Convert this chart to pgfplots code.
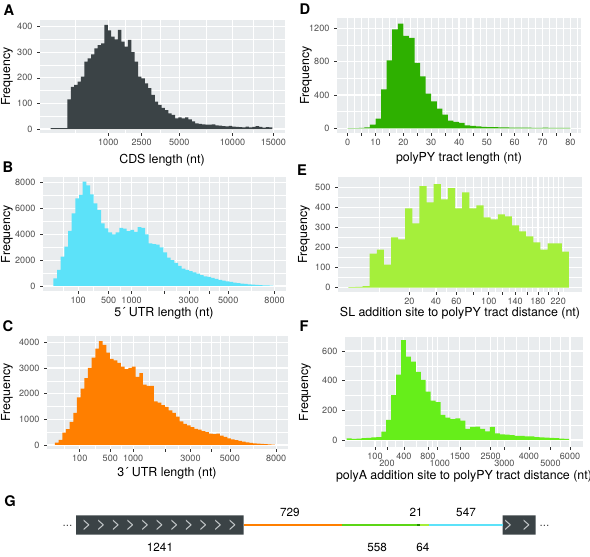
\documentclass[border=0pt]{standalone}
\usepackage{fontspec}
\setmainfont{TeX Gyre Heros}
\usepackage{pgfplots}
\pgfplotsset{compat=1.18}

\definecolor{panelbg}{HTML}{E9ECEE}
\definecolor{tickcol}{HTML}{333333}
\definecolor{ticklab}{HTML}{4D4D4D}
\definecolor{colA}{HTML}{3B4346}
\definecolor{colD}{HTML}{2EB000}
\definecolor{colB}{HTML}{5CE2F9}
\definecolor{colE}{HTML}{A5EF3B}
\definecolor{colC}{HTML}{FF7F00}
\definecolor{colF}{HTML}{66EE1A}
\definecolor{chev}{HTML}{C9CDCF}

\newcommand{\tfont}{\fontsize{6.8}{7}\selectfont}
\newcommand{\lfont}{\fontsize{9.3}{10}\selectfont}
\newcommand{\pfont}{\fontsize{11}{12}\selectfont\bfseries}
\newcommand{\low}[1]{\rule{0pt}{9.6pt}#1}

\pgfplotsset{
  hist/.style={
    scale only axis, anchor=south west,
    axis background/.style={fill=panelbg},
    axis x line*=bottom, axis y line*=left,
    axis line style={draw=none},
    tick align=outside,
    major tick length=2.2pt, minor tick length=0pt,
    tick style={draw=tickcol, line width=0.45pt},
    xmajorgrids, ymajorgrids, xminorgrids, yminorgrids,
    major grid style={draw=white, line width=0.85pt},
    minor grid style={draw=white, line width=0.4pt},
    tick label style={font=\tfont, text=ticklab},
    xticklabel style={yshift=0.9pt},
    /pgf/number format/assume math mode=true,
    /pgf/number format/1000 sep={},
    scaled y ticks=false,
    minor y tick num=1,
  },
  bars/.style={const plot, draw=none, fill=#1},
}

\begin{document}
\begin{tikzpicture}
\path[use as bounding box] (0pt,0pt) rectangle (442.5pt,417.75pt);

% ---------- A ----------
\begin{axis}[hist, at={(30pt,318pt)}, width=183.75pt, height=84.75pt,
  xmin=-3.18, xmax=69.73, ymin=-15.6, ymax=426,
  xtick={17.14,27.08,38.27,54.1,66.28}, xticklabels={1000,2500,5000,10000,15000},
  minor xtick={7.23,22.11,32.68,46.19,60.19},
  ytick={0,100,200,300,400}]
\addplot[bars=colA] coordinates {(0,0)(0,3)(1,3)(2,3)(3,3)(4,3)(5,116)(6,165)(7,172)(8,185)(9,205)(10,263)(11,276)(12,292)(13,315)(14,328)(15,335)(16,407)(17,385)(18,361)(19,350)(20,387)(21,341)(22,322)(23,348)(24,300)(25,263)(26,205)(27,198)(28,178)(29,160)(30,133)(31,107)(32,94)(33,83)(34,74)(35,61)(36,55)(37,42)(38,45)(39,42)(40,45)(41,38)(42,30)(43,22)(44,20)(45,18)(46,17)(47,17)(48,18)(49,14)(50,13)(51,11)(52,10)(53,12)(54,9)(55,8)(56,7)(57,6)(58,9)(59,6)(60,8)(61,11)(62,8)(63,5)(64,7)(65,6)(66,0)} \closedcycle;
\end{axis}

% ---------- D ----------
\begin{axis}[hist, at={(252.75pt,318pt)}, width=183pt, height=86.25pt,
  xmin=-3.84, xmax=83.8, ymin=-56, ymax=1324,
  xtick={0,5,...,80}, xticklabels={0,,10,,20,,30,,40,,50,,60,,70,,80},
  minor xtick={2.5,7.5,...,82.5},
  ytick={0,400,800,1200}]
\addplot[bars=colD] coordinates {(0,0)(0,3)(2,3)(4,5)(6,12)(8,44)(10,116)(12,468)(14,816)(16,1188)(18,1256)(20,1108)(22,1084)(24,784)(26,624)(28,416)(30,324)(32,236)(34,164)(36,92)(38,76)(40,64)(42,36)(44,28)(46,22)(48,18)(50,15)(52,14)(54,12)(56,10)(58,9)(60,8)(62,8)(64,7)(66,6)(68,6)(70,7)(72,5)(74,5)(76,4)(78,4)(80,0)} \closedcycle;
\end{axis}

% ---------- B ----------
\begin{axis}[hist, at={(32.25pt,199.5pt)}, width=182.25pt, height=85.5pt,
  xmin=-2.82, xmax=63.45, ymin=-387, ymax=8441,
  xtick={6.75,15.08,21.33,30.16,36.95,42.66,47.7,60.33}, xticklabels={100,500,1000,,3000,,5000,8000},
  minor xtick={2.6,10.9,18.2,25.75,33.55,39.8,45.18,54.0},
  ytick={0,2000,4000,6000,8000}]
\addplot[bars=colB] coordinates {(0,0)(0,600)(1,1250)(2,2270)(3,3045)(4,4260)(5,5630)(6,6790)(7,7050)(8,8080)(9,7800)(10,7100)(11,6400)(12,5880)(13,4850)(14,4460)(15,4150)(16,4000)(17,4150)(18,4500)(19,4450)(20,4250)(21,4350)(22,4200)(23,4550)(24,4500)(25,4000)(26,3300)(27,3250)(28,3200)(29,3000)(30,2600)(31,2200)(32,2000)(33,1800)(34,1550)(35,1350)(36,1250)(37,1150)(38,1050)(39,950)(40,850)(41,750)(42,700)(43,620)(44,550)(45,480)(46,420)(47,360)(48,310)(49,270)(50,230)(51,190)(52,160)(53,130)(54,110)(55,90)(56,70)(57,55)(58,45)(59,35)(60,0)} \closedcycle;
\end{axis}

% ---------- E ----------
\begin{axis}[hist, at={(253.5pt,198.75pt)}, width=183pt, height=86.25pt,
  xmin=-1.45, xmax=32.84, ymin=-21.4, ymax=551,
  xtick={8.57,12.32,15.19,17.61,19.74,21.68,23.44,25.1,26.65,28.12,29.5},
  xticklabels={20,40,60,,100,,140,,180,,220},
  minor xtick={4.3,10.45,13.75,16.4,18.68,20.71,22.56,24.27,25.88,27.39,28.81,30.2},
  ytick={0,100,200,300,400,500}]
\addplot[bars=colE] coordinates {(0,0)(0,3)(1,4)(2,8)(3,170)(4,190)(5,115)(6,250)(7,240)(8,395)(9,320)(10,505)(11,425)(12,515)(13,440)(14,495)(15,395)(16,475)(17,395)(18,410)(19,350)(20,340)(21,365)(22,355)(23,310)(24,280)(25,255)(26,225)(27,190)(28,220)(29,220)(30,180)(31,0)} \closedcycle;
\end{axis}

% ---------- C ----------
\begin{axis}[hist, at={(35.25pt,81pt)}, width=180.75pt, height=84.75pt,
  xmin=-2.18, xmax=63.55, ymin=-156, ymax=4245,
  xtick={6.75,15.08,21.33,30.16,36.95,42.66,47.7,60.33}, xticklabels={100,500,1000,,3000,,5000,8000},
  minor xtick={2.6,10.9,18.2,25.75,33.55,39.8,45.18,54.0},
  ytick={0,1000,2000,3000,4000}]
\addplot[bars=colC] coordinates {(0,0)(0,90)(1,200)(2,480)(3,620)(4,900)(5,1250)(6,1850)(7,2200)(8,2600)(9,3000)(10,3400)(11,3750)(12,4050)(13,3900)(14,3600)(15,3350)(16,3300)(17,3200)(18,3050)(19,2950)(20,3000)(21,3050)(22,2650)(23,2800)(24,2350)(25,2300)(26,2300)(27,1700)(28,1650)(29,1550)(30,1480)(31,1350)(32,1250)(33,1100)(34,920)(35,820)(36,760)(37,700)(38,630)(39,600)(40,540)(41,500)(42,440)(43,420)(44,440)(45,360)(46,320)(47,260)(48,220)(49,190)(50,160)(51,130)(52,105)(53,85)(54,65)(55,50)(56,40)(57,30)(58,22)(59,15)(60,0)} \closedcycle;
\end{axis}

% ---------- F ----------
\begin{axis}[hist, at={(258.75pt,82.5pt)}, width=178.5pt, height=82.5pt,
  xmin=-0.34, xmax=47.83, ymin=-47.2, ymax=694.4,
  xtick={5.73,8.16,11.58,16.44,18.38,22.91,29.15,31.92,36.88,41.25,45.2},
  xticklabels={100,\low{200},400,800,\low{\hspace{3.5pt}1000},1500,2500,\low{3000},4000,\low{5000},6000},
  minor xtick={2.87,6.95,9.87,14.01,17.41,20.65,26.03,30.54,34.4,39.07,43.23},
  ytick={0,200,400,600}]
\addplot[bars=colF] coordinates {(0,0)(0,11)(1,8)(2,10)(3,12)(4,15)(5,18)(6,20)(7,56)(8,135)(9,303)(10,440)(11,674)(12,562)(13,528)(14,460)(15,405)(16,326)(17,265)(18,255)(19,170)(20,150)(21,140)(22,145)(23,130)(24,75)(25,88)(26,90)(27,75)(28,58)(29,88)(30,45)(31,38)(32,36)(33,32)(34,28)(35,27)(36,25)(37,24)(38,20)(39,18)(40,16)(41,15)(42,13)(43,10)(44,8)(45,0)} \closedcycle;
\end{axis}

% ---------- G ----------
\begin{axis}[at={(0pt,0pt)}, anchor=south west, scale only axis, width=442.5pt, height=46.5pt,
  xmin=-563, xmax=3807.4, ymin=-1.6, ymax=1.5, hide axis, clip=false]
\addplot[fill=colA, draw=none] coordinates {(0,-0.4825)(1241,-0.4825)(1241,0.4825)(0,0.4825)(0,-0.4825)};
\addplot[fill=colA, draw=none] coordinates {(3160,-0.4825)(3405,-0.4825)(3405,0.4825)(3160,0.4825)(3160,-0.4825)};
\addplot[colC, line width=1.7pt] coordinates {(1241,0)(1970,0)};
\addplot[colF!90!black, line width=1.7pt] coordinates {(1970,0)(2528,0)};
\addplot[colD!80!black, line width=1.7pt] coordinates {(2528,0)(2549,0)};
\addplot[colE, line width=1.7pt] coordinates {(2549,0)(2613,0)};
\addplot[colB, line width=1.7pt] coordinates {(2613,0)(3160,0)};
\addplot[only marks, mark=text, text mark={>}, text mark as node=true,
  text mark style={font=\fontsize{12.5}{12.5}\selectfont, text=chev}]
  coordinates {(79,0)(187,0)(296,0)(404,0)(512,0)(620,0)(729,0)(837,0)(945,0)(1053,0)(1161,0)(3202,0)(3339,0)};
\node[font=\fontsize{8.8}{9}\selectfont, text=black!70, anchor=base] at (axis cs:-63,-0.05) {...};
\node[font=\fontsize{8.8}{9}\selectfont, text=black!70, anchor=base] at (axis cs:3470,-0.05) {...};
\node[font=\fontsize{8.8}{9}\selectfont] at (axis cs:1585,0.625) {729};
\node[font=\fontsize{8.8}{9}\selectfont] at (axis cs:2519,0.65) {21};
\node[font=\fontsize{8.8}{9}\selectfont] at (axis cs:2889,0.65) {547};
\node[font=\fontsize{8.8}{9}\selectfont] at (axis cs:622,-1.1) {1241};
\node[font=\fontsize{8.8}{9}\selectfont] at (axis cs:2230,-1.1) {558};
\node[font=\fontsize{8.8}{9}\selectfont] at (axis cs:2570,-1.1) {64};
\end{axis}

% ---------- labels ----------
\begin{scope}[x=0.75pt,y=-0.75pt,yshift=417.75pt]
\node[font=\pfont] at (9,10) {A};
\node[font=\pfont] at (305,9) {D};
\node[font=\pfont] at (8,167) {B};
\node[font=\pfont] at (302,170) {E};
\node[font=\pfont] at (8,326) {C};
\node[font=\pfont] at (304,326) {F};
\node[font=\pfont] at (10,501) {G};

\node[font=\lfont, rotate=90] at (7,76.5) {Frequency};
\node[font=\lfont, rotate=90] at (306,75.5) {Frequency};
\node[font=\lfont, rotate=90] at (7,234) {Frequency};
\node[font=\lfont, rotate=90] at (304,234.5) {Frequency};
\node[font=\lfont, rotate=90] at (7,392.5) {Frequency};
\node[font=\lfont, rotate=90] at (305,392) {Frequency};

\node[font=\lfont] at (162,160) {CDS length (nt)};
\node[font=\lfont] at (459,158) {polyPY tract length (nt)};
\node[font=\lfont] at (164,313) {5´ UTR length (nt)};
\node[font=\lfont] at (460,313) {SL addition site to polyPY tract distance (nt)};
\node[font=\lfont] at (167,473) {3´ UTR length (nt)};
\node[font=\lfont] at (464,476) {polyA addition site to polyPY tract distance (nt)};
\end{scope}
\end{tikzpicture}
\end{document}
